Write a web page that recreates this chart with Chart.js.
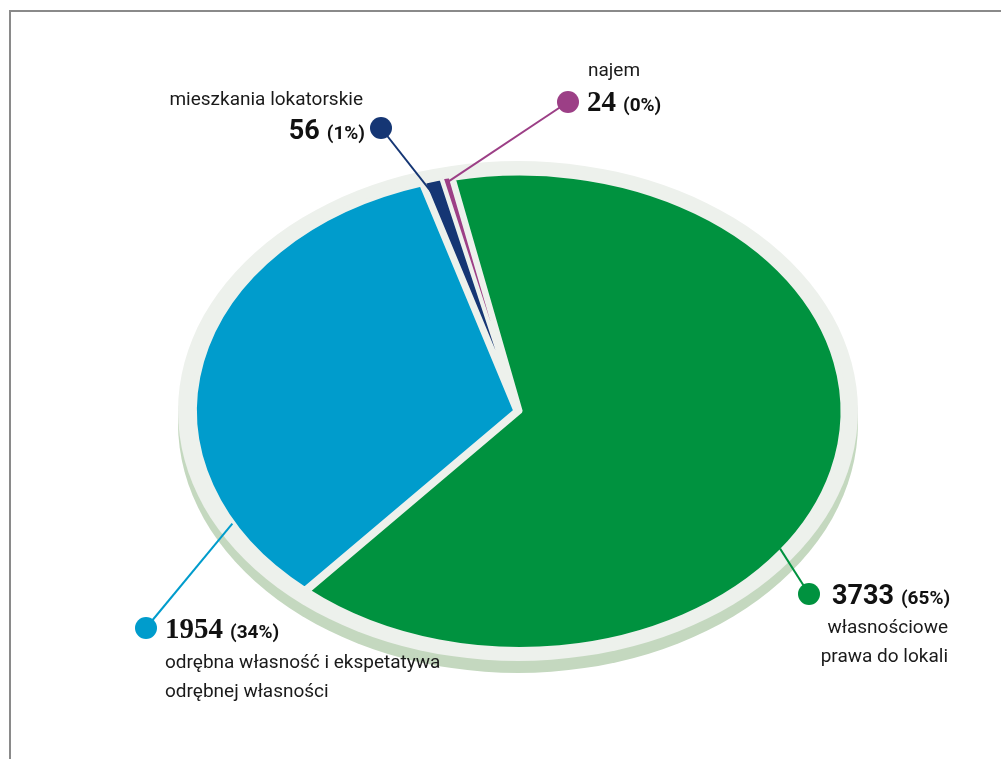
<!DOCTYPE html>
<html lang="pl">
<head>
<meta charset="utf-8">
<title>Struktura tytułów prawnych do lokali</title>
<script src="https://cdn.jsdelivr.net/npm/chart.js@4"></script>
<style>
  html, body { margin: 0; padding: 0; background: #fff; }
  #wrap { position: relative; width: 1001px; height: 759px; overflow: hidden; }
  #frame { position: absolute; left: 9px; top: 10px; width: 1000px; height: 760px;
           border-left: 2px solid #8a8a8a; border-top: 2px solid #8a8a8a; }
  #pie { position: absolute; left: 0; top: 0; }
</style>
</head>
<body>
<div id="wrap">
  <div id="frame"></div>
  <canvas id="pie" width="1001" height="759"></canvas>
</div>
<script>
// kategorie (podpisy w kilku liniach) i liczby lokali
var categories = [
  ['własnościowe', 'prawa do lokali'],
  ['odrębna własność i ekspetatywa', 'odrębnej własności'],
  ['mieszkania lokatorskie'],
  ['najem']
];
var counts = [3733, 1954, 56, 24];
var colors = ['#00923f', '#009ccc', '#153674', '#9c3f86'];

var RING = '#edf1ec';     // jasna obwódka i szczeliny
var BAND = '#c4d8bf';     // dolna "grubość" talerza
var SQUASH = 0.735;       // spłaszczenie koła w elipsę

// rozmieszczenie opisów: kropka, punkt zaczepienia na wycinku, tekst
var callouts = [
  { dot: [809, 594], anchor: 126, reach: 0.98,
    num: { x: 832, y: 604, align: 'left', serif: false },
    caption: { x: 948, y: 633, align: 'right' } },
  { dot: [146, 628], anchor: 241, reach: 0.99,
    num: { x: 165, y: 638, align: 'left', serif: true },
    caption: { x: 165, y: 668, align: 'left' } },
  { dot: [381, 128], anchor: null, reach: 0.88,
    num: { x: 365, y: 139, align: 'right', serif: false },
    caption: { x: 363, y: 105, align: 'right' } },
  { dot: [568, 102], anchor: null, reach: 0.97,
    num: { x: 587, y: 111, align: 'left', serif: true },
    caption: { x: 588, y: 76, align: 'left' } }
];

var total = counts.reduce(function (a, b) { return a + b; }, 0);

var ellipsePlugin = {
  id: 'ellipse',
  beforeDatasetsDraw: function (chart) {
    var arc = chart.getDatasetMeta(0).data[0];
    var ctx = chart.ctx;
    var r = arc.outerRadius + 18;
    ctx.save();
    ctx.translate(arc.x, arc.y);
    ctx.scale(1, SQUASH);
    ctx.fillStyle = BAND;
    ctx.beginPath();
    ctx.arc(0, 12 / SQUASH, r, 0, Math.PI * 2);
    ctx.fill();
    ctx.fillStyle = RING;
    ctx.beginPath();
    ctx.arc(0, 0, r, 0, Math.PI * 2);
    ctx.fill();
    ctx.translate(-arc.x, -arc.y);
  },
  afterDatasetsDraw: function (chart) {
    chart.ctx.restore();
  }
};

function anchorPoint(arc, c) {
  var mid = (arc.startAngle + arc.endAngle) / 2;
  var a = mid;
  if (c.anchor !== null) {
    var t = (c.anchor - 90) * Math.PI / 180;
    while (t < arc.startAngle) t += Math.PI * 2;
    if (t <= arc.endAngle) a = t;
  }
  var off = arc.options.offset || 0;
  var rr = arc.outerRadius * c.reach;
  return [
    arc.x + Math.cos(a) * rr + Math.cos(mid) * off,
    arc.y + (Math.sin(a) * rr + Math.sin(mid) * off) * SQUASH
  ];
}

var calloutPlugin = {
  id: 'callouts',
  afterDraw: function (chart) {
    var ctx = chart.ctx;
    var arcs = chart.getDatasetMeta(0).data;
    ctx.save();
    callouts.forEach(function (c, i) {
      var p = anchorPoint(arcs[i], c);
      ctx.strokeStyle = colors[i];
      ctx.lineWidth = 2;
      ctx.beginPath();
      ctx.moveTo(c.dot[0], c.dot[1]);
      ctx.lineTo(p[0], p[1]);
      ctx.stroke();
      ctx.fillStyle = colors[i];
      ctx.beginPath();
      ctx.arc(c.dot[0], c.dot[1], 11, 0, Math.PI * 2);
      ctx.fill();

      // liczba + udział procentowy
      var numTxt = String(counts[i]);
      var pctTxt = '(' + Math.round(counts[i] / total * 100) + '%)';
      var numFont = c.num.serif ? 'bold 29px "Liberation Serif"' : 'bold 27px Roboto';
      var pctFont = 'bold 19px Roboto';
      ctx.fillStyle = '#111';
      ctx.textBaseline = 'alphabetic';
      ctx.textAlign = 'left';
      ctx.font = numFont;
      var nw = ctx.measureText(numTxt).width;
      ctx.font = pctFont;
      var pw = ctx.measureText(pctTxt).width;
      var x0 = c.num.align === 'left' ? c.num.x : c.num.x - pw - 7 - nw;
      ctx.font = numFont;
      ctx.fillText(numTxt, x0, c.num.y);
      ctx.font = pctFont;
      ctx.fillText(pctTxt, x0 + nw + 7, c.num.y);

      // podpis kategorii
      ctx.font = '19px Roboto';
      ctx.fillStyle = '#1a1a1a';
      ctx.textAlign = c.caption.align;
      categories[i].forEach(function (line, k) {
        ctx.fillText(line, c.caption.x, c.caption.y + k * 29);
      });
    });
    ctx.restore();
  }
};

new Chart(document.getElementById('pie'), {
  type: 'pie',
  data: {
    labels: categories,
    datasets: [{
      data: counts,
      backgroundColor: colors,
      borderColor: RING,
      borderWidth: [6, 6, 5, 3],
      offset: 7
    }]
  },
  options: {
    responsive: false,
    animation: false,
    rotation: -12,
    radius: 322,
    layout: { padding: { left: 35, right: 0, top: 63, bottom: 0 } },
    plugins: {
      legend: { display: false },
      tooltip: { enabled: false }
    }
  },
  plugins: [ellipsePlugin, calloutPlugin]
});
</script>
</body>
</html>
